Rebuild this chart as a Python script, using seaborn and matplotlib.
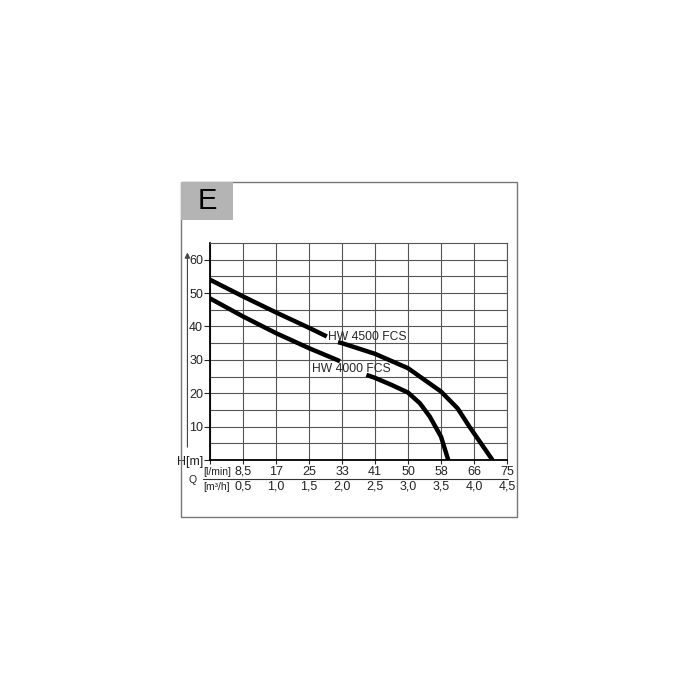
import matplotlib
matplotlib.use('Agg')
import matplotlib.pyplot as plt
import seaborn as sns
import pandas as pd
from matplotlib.patches import Rectangle
from matplotlib.lines import Line2D

# Kennlinien (Q in m3/h, H in m), jeweils zwei Stuecke wegen der Beschriftung
q_4500_a = [0, 0.5, 1.0, 1.5, 1.77]
h_4500_a = [54, 49, 44.2, 39.6, 37]
q_4500_b = [1.94, 2.0, 2.5, 3.0, 3.25, 3.5, 3.75, 3.93, 4.28]
h_4500_b = [35.3, 35, 31.8, 27.5, 24, 20.5, 15.5, 10, 0]

q_4000_a = [0, 0.5, 1.0, 1.5, 1.97]
h_4000_a = [48.4, 43, 38, 33.5, 29.6]
q_4000_b = [2.37, 2.5, 2.75, 3.0, 3.18, 3.33, 3.5, 3.61]
h_4000_b = [25.5, 24.6, 22.5, 20.2, 17, 13, 7, 0]

q_ticks = [0.5, 1.0, 1.5, 2.0, 2.5, 3.0, 3.5, 4.0, 4.5]
lmin_labels = ['8,5', '17', '25', '33', '41', '50', '58', '66', '75']
m3h_labels = ['0,5', '1,0', '1,5', '2,0', '2,5', '3,0', '3,5', '4,0', '4,5']
h_ticks = [0, 10, 20, 30, 40, 50, 60]
h_labels = ['H[m]', '10', '20', '30', '40', '50', '60']

parts = []
for name, q, h in [('4500a', q_4500_a, h_4500_a), ('4500b', q_4500_b, h_4500_b),
                   ('4000a', q_4000_a, h_4000_a), ('4000b', q_4000_b, h_4000_b)]:
    parts.append(pd.DataFrame({'Q': q, 'H': h, 'seg': name}))
df = pd.concat(parts, ignore_index=True)

sns.set_style('white')
plt.rcParams['font.family'] = ['Liberation Sans', 'DejaVu Sans']

fig = plt.figure(figsize=(7, 7), dpi=100)
ax = fig.add_axes([210 / 700, 1 - 460 / 700, 297 / 700, 217 / 700])

sns.lineplot(data=df, x='Q', y='H', units='seg', estimator=None, sort=False,
             color='black', linewidth=3.2, ax=ax, zorder=5,
             solid_joinstyle='round', solid_capstyle='butt')

ax.set_xlim(0, 4.5)
ax.set_ylim(0, 65)
ax.set_xticks([0] + q_ticks)
ax.set_xticklabels([])
ax.set_yticks(h_ticks)
ax.set_yticklabels(h_labels, fontsize=9, color='#222')
ax.set_yticks(list(range(5, 65, 10)), minor=True)
ax.grid(True, which='both', color='#555', linewidth=0.8)
ax.tick_params(axis='y', which='major', length=4, width=0.8, pad=1, left=True)
ax.tick_params(axis='y', which='minor', length=0)
ax.tick_params(axis='x', which='major', length=3, width=0.8, bottom=True)
ax.set_xlabel('')
ax.set_ylabel('')
for s in ['top', 'right']:
    ax.spines[s].set_color('#555')
    ax.spines[s].set_linewidth(0.8)
for s in ['left', 'bottom']:
    ax.spines[s].set_color('black')
    ax.spines[s].set_linewidth(1.3)

ax.text(1.79, 36.8, 'HW 4500 FCS', fontsize=8.7, va='center', ha='left', zorder=6)
ax.text(1.54, 27.3, 'HW 4000 FCS', fontsize=8.7, va='center', ha='left', zorder=6)

# Pfeil an der H-Achse
ax.annotate('', xy=(-0.076, 63), xytext=(-0.076, 3), xycoords=ax.get_yaxis_transform(),
            textcoords=ax.get_yaxis_transform(),
            arrowprops=dict(arrowstyle='-|>', color='#444', lw=0.8, mutation_scale=8))

# Q-Achse mit zwei Einheiten
tr = ax.get_xaxis_transform()
for q, a, b in zip(q_ticks, lmin_labels, m3h_labels):
    ax.text(q, -0.055, a, transform=tr, ha='center', va='center', fontsize=9, color='#222')
    ax.text(q, -0.123, b, transform=tr, ha='center', va='center', fontsize=9, color='#222')
fig.text(203 / 700, 1 - 472 / 700, '[l/min]', fontsize=7.5, va='center', ha='left', color='#222')
fig.text(203 / 700, 1 - 487 / 700, '[m³/h]', fontsize=7.5, va='center', ha='left', color='#222')
fig.text(193 / 700, 1 - 480 / 700, 'Q', fontsize=7.5, va='center', ha='center', color='#222')
fig.add_artist(Line2D([203 / 700, 508 / 700], [1 - 479 / 700, 1 - 479 / 700],
                     color='#333', lw=0.8))

# Rahmen und Kennbuchstabe
fig.add_artist(Rectangle((181 / 700, 1 - 517 / 700), 336 / 700, 335 / 700,
                         fill=False, edgecolor='#777', lw=1))
fig.add_artist(Rectangle((181 / 700, 1 - 220 / 700), 52 / 700, 38 / 700,
                         facecolor='#b4b4b4', edgecolor='none'))
fig.text(207 / 700, 1 - 201 / 700, 'E', fontsize=21, ha='center', va='center', color='black')

plt.savefig('out.png', dpi=100)
